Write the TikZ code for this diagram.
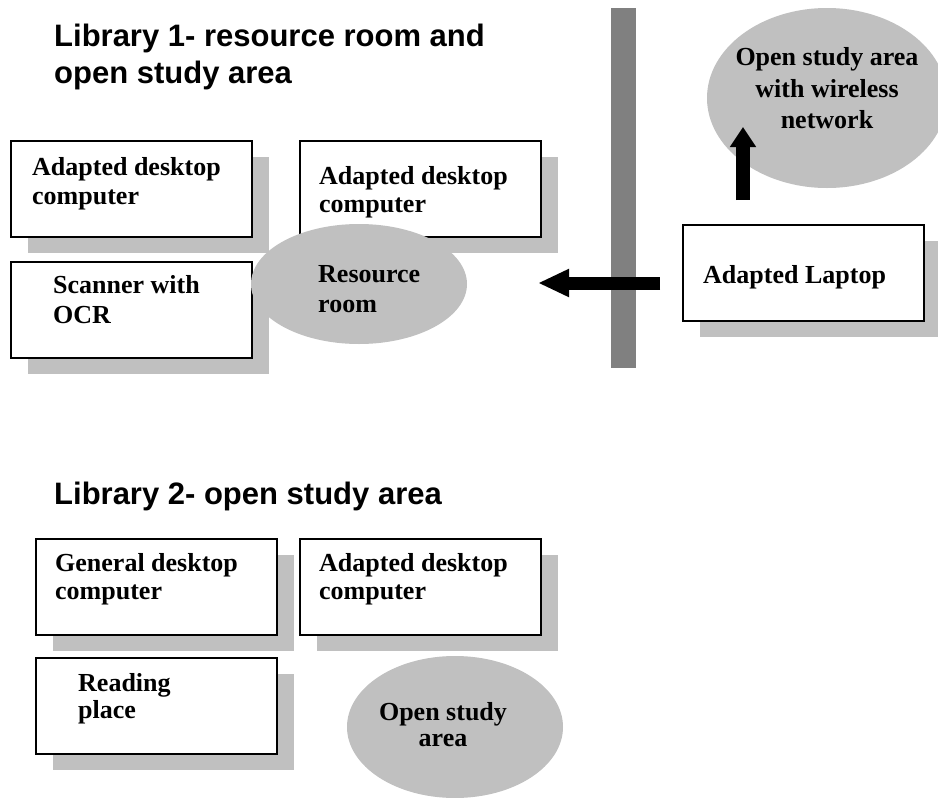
\documentclass[tikz,border=0pt]{standalone}
\usepackage{fontspec}
\setmainfont{Liberation Serif}
\newfontfamily\titlefont{Liberation Sans}
\usetikzlibrary{shadows,arrows.meta,shapes.geometric}
\definecolor{shade}{HTML}{C0C0C0}
\definecolor{wallgray}{HTML}{808080}
\begin{document}
\begin{tikzpicture}[x=1pt,y=-1pt,
  box/.style={draw=black, line width=1.5pt, fill=white, minimum width=241pt,
    minimum height=96pt, anchor=north west, inner sep=0pt,
    drop shadow={shadow xshift=17pt, shadow yshift=-16pt, fill=shade, opacity=1}},
  area/.style={ellipse, fill=shade, draw=none, inner sep=0pt},
  lbl/.style={anchor=base west, inner sep=0pt, font=\bfseries\fontsize{26}{30}\selectfont},
  clbl/.style={anchor=base, inner sep=0pt, font=\bfseries\fontsize{26}{30}\selectfont},
  ttl/.style={anchor=base west, inner sep=0pt, font=\titlefont\bfseries\fontsize{31}{37}\selectfont},
  bigarrow/.style={draw=black, line cap=butt}]
\useasboundingbox (0,0) rectangle (938,798);
\clip (0,0) rectangle (938,798);
\fill[white] (0,0) rectangle (938,798);

% Titles
\node[ttl] (t1a) at (54,46) {Library 1- resource room and};
\node[ttl] (t1b) at (54,83) {open study area};
\node[ttl] (t2) at (54,504) {Library 2- open study area};

% Library 1 boxes
\node[box] (b1) at (10,140) {};
\node[box] (b2) at (299,140) {};
\node[box] (b3) at (10,261) {};
\node[box] (lap) at (682,224) {};

\node[lbl] (b1l1) at (32,175) {Adapted desktop};
\node[lbl] (b1l2) at (32,204) {computer};
\node[lbl] (b2l1) at (319,184) {Adapted desktop};
\node[lbl] (b2l2) at (319,212) {computer};
\node[lbl] (b3l1) at (53,293) {Scanner with};
\node[lbl] (b3l2) at (53,323) {OCR};
\node[lbl] (lapl) at (703,283) {Adapted Laptop};

% Resource room
\node[area, minimum width=216pt, minimum height=120pt] (rr) at (359,284) {};
\node[lbl] (rrl1) at (318,282) {Resource};
\node[lbl] (rrl2) at (318,312) {room};

% Open study area with wireless network
\node[area, minimum width=240pt, minimum height=180pt] (os1) at (827,98) {};
\node[clbl] (os1l1) at (827,65) {Open study area};
\node[clbl] (os1l2) at (827,97) {with wireless};
\node[clbl] (os1l3) at (827,128) {network};

% Wall
\fill[wallgray] (611,8) rectangle (636,368);

% Arrows
\coordinate (la1) at (660,283);
\coordinate (la2) at (538,283);
\draw[bigarrow, line width=13pt, -{Triangle[length=31pt,width=26pt]}] (la1) -- (la2);
\coordinate (ua1) at (743,200);
\coordinate (ua2) at (743,127);
\draw[bigarrow, line width=14pt, -{Triangle[length=20pt,width=25pt]}] (ua1) -- (ua2);

% Library 2
\node[box] (c1) at (35,538) {};
\node[box] (c2) at (299,538) {};
\node[box] (c3) at (35,657) {};
\node[lbl] (c1l1) at (55,571) {General desktop};
\node[lbl] (c1l2) at (55,599) {computer};
\node[lbl] (c2l1) at (319,571) {Adapted desktop};
\node[lbl] (c2l2) at (319,599) {computer};
\node[lbl] (c3l1) at (78,691) {Reading};
\node[lbl] (c3l2) at (78,718) {place};

\node[area, minimum width=216pt, minimum height=142pt] (os2) at (455,727) {};
\node[clbl] (os2l1) at (443,720) {Open study};
\node[clbl] (os2l2) at (443,746) {area};
\end{tikzpicture}
\end{document}
